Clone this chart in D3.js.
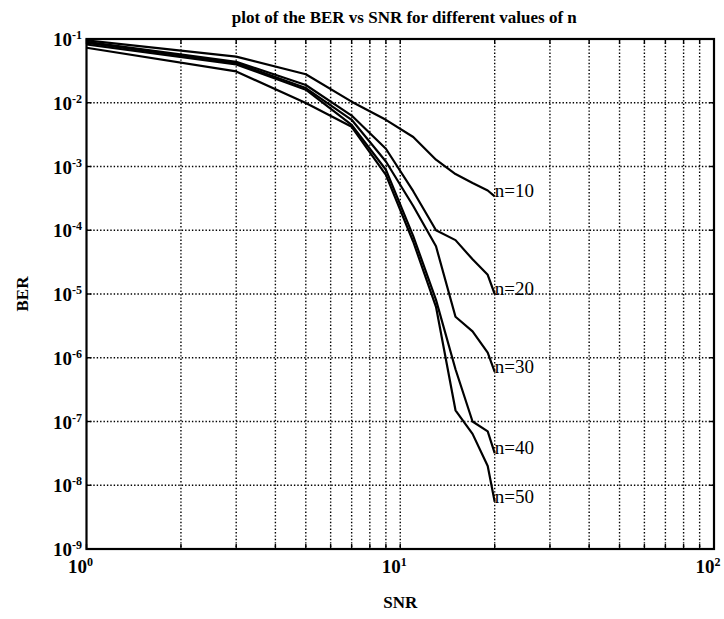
<!DOCTYPE html>
<html>
<head>
<meta charset="utf-8">
<script src="https://cdn.jsdelivr.net/npm/d3@7"></script>
<style>
  html, body { margin: 0; padding: 0; background: #fff; }
  svg { display: block; }
  text { font-family: "Liberation Serif", "Times New Roman", serif; fill: #000; }
</style>
</head>
<body>
<svg id="chart" width="724" height="619"></svg>
<script>
// SNR sample points shared by every curve
const snr = [1, 3, 5, 7, 9, 11, 13, 15, 17, 19, 20];

// Bit error rate for each block length n
const ber10 = [0.095, 0.053, 0.028, 0.0104, 0.0054, 0.0029, 0.00128, 0.00076, 0.00055, 0.00042, 0.00034];
const ber20 = [0.090, 0.044, 0.019, 0.0063, 0.0019, 0.00041, 0.0001, 0.00007, 0.000035, 0.00002, 0.00001];
const ber30 = [0.087, 0.042, 0.017, 0.0054, 0.0012, 0.00024, 0.000056, 0.0000044, 0.0000026, 0.0000012, 0.0000006];
const ber40 = [0.082, 0.040, 0.016, 0.0045, 0.00089, 0.000081, 0.0000081, 0.00000066, 0.0000001, 0.00000007, 0.000000032];
const ber50 = [0.073, 0.031, 0.0099, 0.0042, 0.00074, 0.000066, 0.0000063, 0.00000015, 0.000000064, 0.00000002, 0.0000000055];

const seriesNames = ["n=10", "n=20", "n=30", "n=40", "n=50"];
const seriesValues = [ber10, ber20, ber30, ber40, ber50];

// Axis tick exponents
const xExponents = [0, 1, 2];
const yExponents = [-1, -2, -3, -4, -5, -6, -7, -8, -9];

const titleText = "plot of the BER vs SNR for different values of n";
const xLabel = "SNR";
const yLabel = "BER";

const svg = d3.select("#chart");
const plotLeft = 86.5, plotRight = 714, plotTop = 39, plotBottom = 549;

const x = d3.scaleLog().domain([1, 100]).range([plotLeft, plotRight]);
const y = d3.scaleLog().domain([1e-9, 1e-1]).range([plotBottom, plotTop]);

// x grid positions: 1..9, 10..90, 100
const xGrid = [];
for (let d = 1; d <= 10; d *= 10) for (let k = 1; k <= 9; k++) xGrid.push(k * d);
xGrid.push(100);
const yGrid = yExponents.map(e => Math.pow(10, e));

const grid = svg.append("g").attr("class", "grid")
  .attr("stroke", "#000").attr("stroke-width", 1.4)
  .attr("stroke-dasharray", "1.4,2");
grid.selectAll("line.gx").data(xGrid.filter(v => v > 1 && v < 100)).join("line")
  .attr("class", "gx")
  .attr("x1", d => x(d)).attr("x2", d => x(d))
  .attr("y1", plotTop).attr("y2", plotBottom);
grid.selectAll("line.gy").data(yGrid.filter(v => v > 1e-9 && v < 1e-1)).join("line")
  .attr("class", "gy")
  .attr("y1", d => y(d)).attr("y2", d => y(d))
  .attr("x1", plotLeft).attr("x2", plotRight);

// inward tick marks on all four sides
const ticks = svg.append("g").attr("stroke", "#000").attr("stroke-width", 1.4);
xGrid.forEach(v => {
  ticks.append("line").attr("x1", x(v)).attr("x2", x(v)).attr("y1", plotBottom).attr("y2", plotBottom - 5);
  ticks.append("line").attr("x1", x(v)).attr("x2", x(v)).attr("y1", plotTop).attr("y2", plotTop + 5);
});
yGrid.forEach(v => {
  ticks.append("line").attr("y1", y(v)).attr("y2", y(v)).attr("x1", plotLeft).attr("x2", plotLeft + 5);
  ticks.append("line").attr("y1", y(v)).attr("y2", y(v)).attr("x1", plotRight).attr("x2", plotRight - 5);
});

// curves
const line = d3.line().x((d, i) => x(snr[i])).y(d => y(d));
svg.append("g").selectAll("path").data(seriesValues).join("path")
  .attr("d", d => line(d))
  .attr("fill", "none").attr("stroke", "#000").attr("stroke-width", 2.2)
  .attr("stroke-linejoin", "round");

// curve labels at the last sample
svg.append("g").selectAll("text").data(seriesValues).join("text")
  .attr("x", d => x(snr[snr.length - 1]))
  .attr("y", d => y(d[d.length - 1]) + 1)
  .attr("font-size", 19)
  .text((d, i) => seriesNames[i]);

// frame
svg.append("rect").attr("x", plotLeft).attr("y", plotTop)
  .attr("width", plotRight - plotLeft).attr("height", plotBottom - plotTop)
  .attr("fill", "none").attr("stroke", "#000").attr("stroke-width", 2.2);

// y tick labels: 10 with raised exponent
const yl = svg.append("g").attr("font-weight", "bold");
yExponents.forEach(e => {
  const t = yl.append("text").attr("x", 82).attr("y", y(Math.pow(10, e)) + 7)
    .attr("text-anchor", "end").attr("font-size", 19);
  t.append("tspan").text("10");
  t.append("tspan").attr("dy", -7).attr("font-size", 12).text(String(e));
});

// x tick labels
const xl = svg.append("g").attr("font-weight", "bold");
xExponents.forEach(e => {
  const t = xl.append("text").attr("x", x(Math.pow(10, e)) - 6).attr("y", 573)
    .attr("text-anchor", "middle").attr("font-size", 19);
  t.append("tspan").text("10");
  t.append("tspan").attr("dy", -7).attr("font-size", 12).text(String(e));
});

// title and axis labels
svg.append("text").attr("x", (plotLeft + plotRight) / 2 + 4).attr("y", 23)
  .attr("text-anchor", "middle").attr("font-weight", "bold").attr("font-size", 17)
  .text(titleText);
svg.append("text").attr("x", (plotLeft + plotRight) / 2).attr("y", 608)
  .attr("text-anchor", "middle").attr("font-weight", "bold").attr("font-size", 17)
  .text(xLabel);
svg.append("text").attr("transform", `translate(28, ${(plotTop + plotBottom) / 2}) rotate(-90)`)
  .attr("text-anchor", "middle").attr("font-weight", "bold").attr("font-size", 17)
  .text(yLabel);
</script>
</body>
</html>
